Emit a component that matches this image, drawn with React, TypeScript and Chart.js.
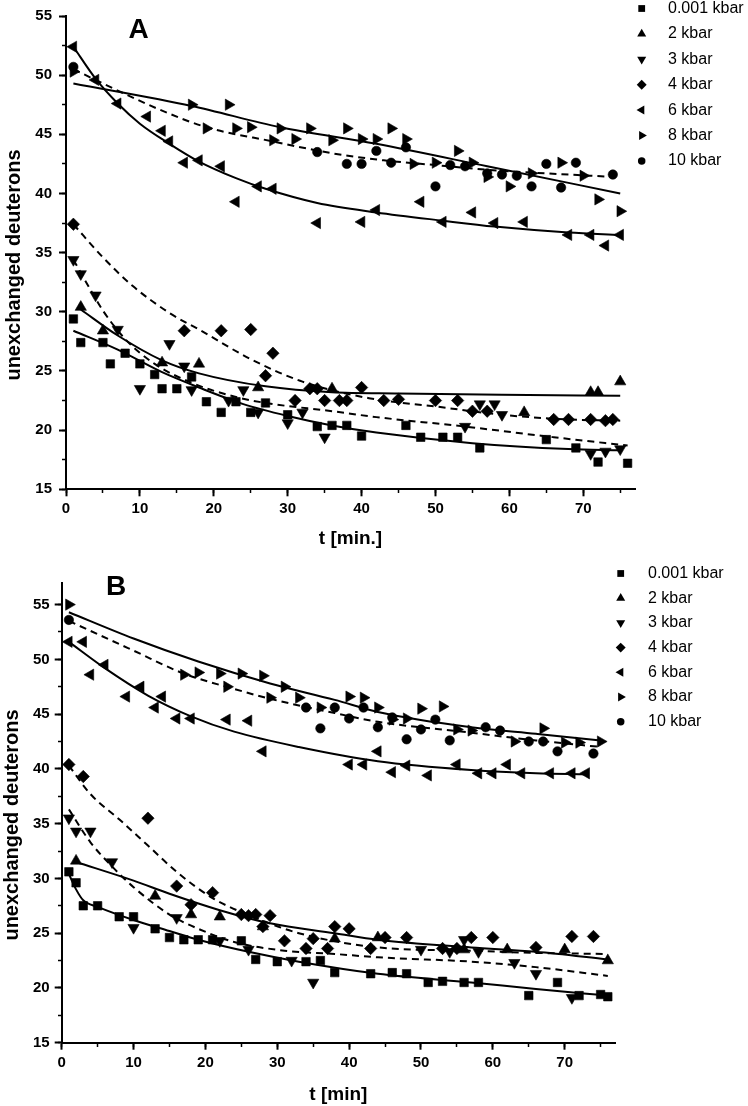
import React, { useEffect, useRef } from 'react';
import { Chart, registerables } from 'chart.js';

Chart.register(...registerables);

const FONT = "'Liberation Sans', Arial, Helvetica, sans-serif";

const PRESSURES = ['0.001 kbar', '2 kbar', '3 kbar', '4 kbar', '6 kbar', '8 kbar', '10 kbar'];
const X_TICK_STEP = 10;
const X_MINOR_STEP = 5;
const Y_TICK_STEP = 5;
const Y_MINOR_STEP = 2.5;

// ---------------- Panel A : measured points ----------------
const A_P001_T = [1, 2, 5, 6, 8, 10, 12, 13, 15, 17, 19, 21, 23, 25, 27, 30, 34, 36, 38, 40, 46, 48, 51, 53, 56, 65, 69, 72, 76];
const A_P001_D = [29.4, 27.4, 27.4, 25.6, 26.5, 25.6, 24.7, 23.5, 23.5, 24.5, 22.4, 21.5, 22.4, 21.5, 22.3, 21.3, 20.3, 20.4, 20.4, 19.5, 20.4, 19.4, 19.4, 19.4, 18.5, 19.2, 18.5, 17.3, 17.2];
const A_P2_T = [2, 5, 13, 18, 26, 36, 62, 71, 72, 75];
const A_P2_D = [30.4, 28.4, 25.7, 25.6, 23.6, 23.5, 21.5, 23.2, 23.2, 24.1];
const A_P3_T = [1, 2, 4, 7, 10, 14, 16, 17, 22, 24, 26, 30, 32, 35, 54, 56, 58, 59, 71, 73, 75];
const A_P3_D = [34.4, 33.2, 31.4, 28.5, 23.5, 27.3, 25.4, 23.4, 22.5, 23.4, 21.5, 20.6, 21.5, 19.4, 20.3, 22.2, 22.2, 21.3, 18.0, 18.2, 18.4];
const A_P4_T = [1, 16, 21, 25, 27, 28, 31, 33, 34, 35, 37, 38, 40, 43, 45, 50, 53, 55, 57, 66, 68, 71, 73, 74];
const A_P4_D = [37.4, 28.4, 28.4, 28.5, 24.6, 26.5, 22.5, 23.5, 23.5, 22.5, 22.5, 22.5, 23.6, 22.5, 22.6, 22.5, 22.5, 21.6, 21.6, 20.9, 20.9, 20.9, 20.8, 20.9];
const A_P6_T = [1, 4, 7, 11, 13, 14, 16, 18, 21, 23, 26, 28, 34, 40, 42, 48, 51, 55, 58, 62, 68, 71, 73, 75];
const A_P6_D = [52.4, 49.6, 47.6, 46.5, 45.3, 44.4, 42.6, 42.8, 42.3, 39.3, 40.6, 40.4, 37.5, 37.6, 38.6, 39.3, 37.6, 38.4, 37.5, 37.6, 36.5, 36.5, 35.6, 36.5];
const A_P8_T = [1, 17, 19, 22, 23, 25, 28, 29, 31, 33, 36, 38, 40, 42, 44, 46, 47, 50, 53, 55, 57, 60, 63, 67, 70, 72, 75];
const A_P8_D = [50.3, 47.5, 45.5, 47.5, 45.5, 45.6, 44.5, 45.5, 44.6, 45.5, 44.5, 45.5, 44.6, 44.6, 45.5, 44.6, 42.5, 42.6, 43.6, 42.6, 41.4, 40.6, 41.7, 42.6, 41.5, 39.5, 38.5];
const A_P10_T = [1, 34, 38, 40, 42, 44, 46, 50, 52, 54, 57, 59, 61, 63, 65, 67, 69, 74];
const A_P10_D = [50.7, 43.5, 42.5, 42.5, 43.6, 42.6, 43.9, 40.6, 42.4, 42.3, 41.7, 41.6, 41.5, 40.6, 42.5, 40.5, 42.6, 41.6];

// ---------------- Panel A : fitted curves ----------------
const A_F001_T = [1, 7, 13, 18, 24, 30, 36, 42, 55, 68, 75];
const A_F001_D = [28.4, 26.8, 24.9, 23.6, 22.2, 21.2, 20.4, 19.8, 18.9, 18.4, 18.3];
const A_F2_T = [2, 7, 13, 18, 27, 36, 45, 59, 75];
const A_F2_D = [30.2, 28.0, 25.9, 24.8, 23.7, 23.2, 23.1, 23.0, 22.9];
const A_F3_T = [1, 3, 5, 8, 12, 17, 23, 27, 36, 42, 54, 66, 76];
const A_F3_D = [34.4, 32.2, 30.1, 27.7, 25.6, 24.0, 22.8, 22.3, 21.6, 21.1, 20.3, 19.4, 18.7];
const A_F4_T = [1, 5, 9, 14, 18, 25, 32, 41, 50, 59, 68, 75];
const A_F4_D = [37.4, 34.6, 32.2, 29.9, 28.5, 26.0, 24.1, 22.7, 22.0, 21.3, 20.9, 20.8];
const A_F6_T = [1, 4, 7, 10, 14, 18, 23, 27, 34, 42, 51, 58, 68, 75];
const A_F6_D = [52.4, 49.7, 47.6, 45.9, 44.2, 42.7, 41.3, 40.4, 39.2, 38.4, 37.7, 37.2, 36.7, 36.5];
const A_F8_T = [1, 17, 29, 42, 57, 75];
const A_F8_D = [49.3, 47.4, 45.6, 44.2, 42.3, 40.0];
const A_F10_T = [1, 7, 13, 19, 28, 36, 43, 50, 57, 65, 74];
const A_F10_D = [50.5, 48.7, 47.0, 45.6, 44.4, 43.4, 42.8, 42.4, 42.0, 41.7, 41.4];

// ---------------- Panel B : measured points ----------------
const B_P001_T = [1, 2, 3, 5, 8, 10, 13, 15, 17, 19, 21, 25, 27, 30, 34, 36, 38, 43, 46, 48, 51, 53, 56, 58, 65, 69, 72, 75, 76];
const B_P001_D = [30.6, 29.6, 27.5, 27.5, 26.5, 26.5, 25.4, 24.6, 24.4, 24.4, 24.4, 24.3, 22.6, 22.4, 22.4, 22.5, 21.4, 21.3, 21.4, 21.3, 20.5, 20.6, 20.5, 20.5, 19.3, 20.5, 19.3, 19.4, 19.2];
const B_P2_T = [2, 13, 18, 22, 28, 38, 44, 56, 62, 70, 76];
const B_P2_D = [31.6, 28.4, 26.7, 26.5, 25.6, 24.5, 24.6, 23.5, 23.5, 23.5, 22.5];
const B_P3_T = [1, 2, 4, 7, 10, 16, 22, 26, 32, 35, 50, 54, 56, 58, 63, 66, 71];
const B_P3_D = [35.5, 34.3, 34.3, 31.5, 25.5, 26.4, 24.3, 23.5, 22.5, 20.5, 23.5, 23.3, 24.4, 23.3, 22.3, 21.3, 19.1];
const B_P4_T = [1, 3, 12, 16, 18, 21, 25, 26, 27, 28, 29, 31, 34, 35, 37, 38, 40, 43, 45, 48, 53, 55, 57, 60, 66, 71, 74];
const B_P4_D = [40.4, 39.3, 35.5, 29.3, 27.6, 28.7, 26.7, 26.6, 26.7, 25.6, 26.6, 24.3, 23.6, 24.5, 23.6, 25.6, 25.4, 23.6, 24.6, 24.6, 23.6, 23.6, 24.6, 24.6, 23.7, 24.7, 24.7];
const B_P6_T = [1, 3, 4, 6, 9, 11, 13, 14, 16, 18, 23, 26, 28, 40, 42, 44, 46, 48, 51, 55, 58, 60, 62, 64, 68, 71, 73];
const B_P6_D = [51.6, 51.6, 48.6, 49.5, 46.6, 47.5, 45.6, 46.6, 44.6, 44.6, 44.5, 44.4, 41.6, 40.4, 40.4, 41.6, 39.7, 40.3, 39.4, 40.4, 39.6, 39.6, 40.4, 39.6, 39.6, 39.6, 39.6];
const B_P8_T = [1, 17, 19, 22, 23, 25, 28, 29, 31, 33, 36, 40, 42, 44, 46, 48, 50, 53, 55, 57, 63, 67, 70, 72, 75];
const B_P8_D = [55.0, 48.6, 48.8, 48.7, 47.5, 48.7, 48.5, 46.5, 47.5, 46.5, 45.6, 46.6, 46.5, 45.6, 44.5, 44.6, 45.5, 45.7, 43.6, 43.5, 42.5, 43.7, 42.4, 42.4, 42.5];
const B_P10_T = [1, 34, 36, 38, 40, 42, 44, 46, 48, 50, 52, 54, 59, 61, 65, 67, 69, 74];
const B_P10_D = [53.6, 45.6, 43.7, 45.6, 44.6, 45.6, 43.8, 44.7, 42.7, 43.6, 44.5, 42.6, 43.8, 43.5, 42.5, 42.5, 41.6, 41.4];

// ---------------- Panel B : fitted curves ----------------
const B_F001_T = [1, 2, 3, 5, 10, 15, 19, 26, 33, 44, 57, 66, 76];
const B_F001_D = [30.4, 29.0, 28.0, 27.4, 26.2, 25.2, 24.4, 23.3, 22.4, 21.3, 20.5, 19.9, 19.3];
const B_F2_T = [2, 10, 15, 22, 29, 38, 44, 57, 66, 76];
const B_F2_D = [31.5, 29.8, 28.6, 27.1, 25.9, 25.0, 24.4, 23.7, 23.3, 22.6];
const B_F3_T = [1, 4, 7, 10, 15, 19, 24, 31, 38, 44, 57, 66, 76];
const B_F3_D = [36.3, 33.3, 31.1, 29.2, 26.7, 25.4, 24.2, 23.4, 23.1, 22.8, 22.4, 21.9, 21.1];
const B_F4_T = [1, 4, 8, 12, 16, 21, 27, 33, 44, 57, 66, 76];
const B_F4_D = [40.3, 37.7, 35.4, 33.0, 30.6, 28.2, 26.4, 25.0, 23.7, 23.4, 23.2, 23.1];
const B_F6_T = [1, 6, 12, 18, 24, 33, 44, 57, 66, 73];
const B_F6_D = [51.6, 49.2, 46.7, 44.8, 43.4, 42.0, 40.7, 39.9, 39.6, 39.5];
const B_F8_T = [1, 10, 19, 29, 38, 44, 57, 66, 75];
const B_F8_D = [54.3, 51.9, 49.8, 47.8, 46.3, 45.2, 43.8, 43.2, 42.6];
const B_F10_T = [1, 10, 17, 24, 29, 38, 44, 57, 66, 75];
const B_F10_D = [53.5, 50.8, 48.7, 47.3, 46.4, 45.1, 44.3, 43.3, 42.6, 42.0];

// ---------------- styles ----------------
const MARKERS = [
  { shape: 'rect', rotation: 0, radius: 6 },
  { shape: 'triangle', rotation: 0, radius: 6.5 },
  { shape: 'triangle', rotation: 180, radius: 6.5 },
  { shape: 'rectRot', rotation: 0, radius: 6.2 },
  { shape: 'triangle', rotation: 270, radius: 6.5 },
  { shape: 'triangle', rotation: 90, radius: 6.5 },
  { shape: 'circle', rotation: 0, radius: 4.7 },
];
const DASHED = [false, false, true, true, false, false, true];

type Pair = [number[], number[]];

interface PanelSpec {
  points: Pair[];
  fits: Pair[];
  yMin: number;
  yMax: number;
  xMax: number;
  padding: { left: number; right: number; top: number; bottom: number };
  yTickPadding: number;
  decor: any;
}

const PANEL_A: PanelSpec = {
  points: [
    [A_P001_T, A_P001_D], [A_P2_T, A_P2_D], [A_P3_T, A_P3_D], [A_P4_T, A_P4_D],
    [A_P6_T, A_P6_D], [A_P8_T, A_P8_D], [A_P10_T, A_P10_D],
  ],
  fits: [
    [A_F001_T, A_F001_D], [A_F2_T, A_F2_D], [A_F3_T, A_F3_D], [A_F4_T, A_F4_D],
    [A_F6_T, A_F6_D], [A_F8_T, A_F8_D], [A_F10_T, A_F10_D],
  ],
  yMin: 15,
  yMax: 55,
  xMax: 77,
  padding: { left: 16, right: 113, top: 15.7, bottom: 26.7 },
  yTickPadding: 7,
  decor: {
    yTitle: 'unexchanged deuterons', yTitleX: 14, yTitleY: 265,
    xTitle: 't [min.]', xTitleBaseline: 543.5,
    letter: 'A', letterX: 138.5, letterBaseline: 38,
    legendX: 641.7, legendTextX: 668, legendY0: 8.5, legendDy: 25.4,
  },
};

const PANEL_B: PanelSpec = {
  points: [
    [B_P001_T, B_P001_D], [B_P2_T, B_P2_D], [B_P3_T, B_P3_D], [B_P4_T, B_P4_D],
    [B_P6_T, B_P6_D], [B_P8_T, B_P8_D], [B_P10_T, B_P10_D],
  ],
  fits: [
    [B_F001_T, B_F001_D], [B_F2_T, B_F2_D], [B_F3_T, B_F3_D], [B_F4_T, B_F4_D],
    [B_F6_T, B_F6_D], [B_F8_T, B_F8_D], [B_F10_T, B_F10_D],
  ],
  yMin: 15,
  yMax: 57,
  xMax: 77,
  padding: { left: 11.7, right: 133, top: 26.7, bottom: 23.3 },
  yTickPadding: 5,
  decor: {
    yTitle: 'unexchanged deuterons', yTitleX: 12.5, yTitleY: 269,
    xTitle: 't [min]', xTitleBaseline: 543.5,
    letter: 'B', letterX: 116, letterBaseline: 39,
    legendX: 620.7, legendTextX: 648, legendY0: 17.5, legendDy: 24.7,
  },
};

function drawMarker(ctx: CanvasRenderingContext2D, m: any, x: number, y: number, r: number) {
  ctx.beginPath();
  if (m.shape === 'rect') {
    const s = r * Math.SQRT1_2;
    ctx.rect(x - s, y - s, 2 * s, 2 * s);
  } else if (m.shape === 'rectRot') {
    ctx.moveTo(x, y - r);
    ctx.lineTo(x + r, y);
    ctx.lineTo(x, y + r);
    ctx.lineTo(x - r, y);
    ctx.closePath();
  } else if (m.shape === 'circle') {
    ctx.arc(x, y, r, 0, Math.PI * 2);
  } else {
    let rad = (m.rotation * Math.PI) / 180;
    ctx.moveTo(x + Math.sin(rad) * r, y - Math.cos(rad) * r);
    rad += (2 * Math.PI) / 3;
    ctx.lineTo(x + Math.sin(rad) * r, y - Math.cos(rad) * r);
    rad += (2 * Math.PI) / 3;
    ctx.lineTo(x + Math.sin(rad) * r, y - Math.cos(rad) * r);
    ctx.closePath();
  }
  ctx.fill();
}

const decorPlugin = {
  id: 'decor',
  afterDraw(chart: any, _args: any, o: any) {
    const ctx: CanvasRenderingContext2D = chart.ctx;
    const ca = chart.chartArea;
    ctx.save();
    ctx.fillStyle = '#000';

    // y axis title
    ctx.save();
    ctx.font = `bold 20px ${FONT}`;
    ctx.textAlign = 'center';
    ctx.textBaseline = 'middle';
    ctx.translate(o.yTitleX, o.yTitleY);
    ctx.rotate(-Math.PI / 2);
    ctx.fillText(o.yTitle, 0, 0);
    ctx.restore();

    // x axis title
    ctx.font = `bold 19px ${FONT}`;
    ctx.textAlign = 'center';
    ctx.textBaseline = 'alphabetic';
    ctx.fillText(o.xTitle, (ca.left + ca.right) / 2, o.xTitleBaseline);

    // panel letter
    ctx.font = `bold 28px ${FONT}`;
    ctx.fillText(o.letter, o.letterX, o.letterBaseline);

    // legend
    ctx.font = `16px ${FONT}`;
    ctx.textAlign = 'left';
    ctx.textBaseline = 'middle';
    PRESSURES.forEach((label, i) => {
      const y = o.legendY0 + i * o.legendDy;
      const m = MARKERS[i];
      drawMarker(ctx, m, o.legendX, y, m.radius * 0.8);
      ctx.fillText(label, o.legendTextX, y);
    });
    ctx.restore();
  },
};

function toXY(p: Pair) {
  return p[0].map((t, k) => ({ x: t, y: p[1][k] }));
}

function buildConfig(p: PanelSpec): any {
  const datasets: any[] = [];
  p.points.forEach((s, i) => {
    const m = MARKERS[i];
    datasets.push({
      label: PRESSURES[i],
      data: toXY(s),
      xAxisID: 'x',
      yAxisID: 'y',
      showLine: false,
      pointStyle: m.shape,
      pointRotation: m.rotation,
      pointRadius: m.radius,
      pointHoverRadius: m.radius,
      backgroundColor: '#000',
      borderColor: '#000',
      borderWidth: 0.6,
    });
  });
  p.fits.forEach((s, i) => {
    datasets.push({
      label: 'fit ' + PRESSURES[i],
      data: toXY(s),
      xAxisID: 'x',
      yAxisID: 'y',
      showLine: true,
      fill: false,
      pointRadius: 0,
      pointHoverRadius: 0,
      borderColor: '#000',
      backgroundColor: '#000',
      borderWidth: 2,
      borderDash: DASHED[i] ? [7, 5] : [],
      cubicInterpolationMode: 'monotone',
    });
  });

  const tickFont = { family: FONT, size: 15, weight: 'bold' };

  return {
    type: 'scatter',
    data: { datasets },
    options: {
      responsive: false,
      animation: false,
      events: [],
      layout: { padding: p.padding },
      plugins: {
        legend: { display: false },
        tooltip: { enabled: false },
        decor: p.decor,
      },
      scales: {
        x: {
          type: 'linear',
          position: 'bottom',
          min: 0,
          max: p.xMax,
          afterFit: (s: any) => { s.height = 40; },
          ticks: {
            stepSize: X_TICK_STEP, includeBounds: false, autoSkip: false, maxRotation: 0,
            padding: 4, color: '#000', font: tickFont,
          },
          grid: { drawOnChartArea: false, drawTicks: true, tickLength: 7, tickWidth: 2, tickColor: '#000' },
          border: { display: true, color: '#000', width: 2 },
          title: { display: false },
        },
        y: {
          type: 'linear',
          position: 'left',
          min: p.yMin,
          max: p.yMax,
          afterFit: (s: any) => { s.width = 50; },
          ticks: {
            stepSize: Y_TICK_STEP, includeBounds: false, autoSkip: false,
            padding: p.yTickPadding, color: '#000', font: tickFont,
          },
          grid: { drawOnChartArea: false, drawTicks: true, tickLength: 7, tickWidth: 2, tickColor: '#000' },
          border: { display: true, color: '#000', width: 2 },
          title: { display: false },
        },
        xMinor: {
          type: 'linear',
          axis: 'x',
          position: { y: p.yMin },
          min: 0,
          max: p.xMax,
          ticks: { display: false, stepSize: X_MINOR_STEP, includeBounds: false, autoSkip: false },
          grid: { drawOnChartArea: false, drawTicks: true, tickLength: 4, tickWidth: 1.5, tickColor: '#000' },
          border: { display: false },
        },
        yMinor: {
          type: 'linear',
          axis: 'y',
          position: { x: 0 },
          min: p.yMin,
          max: p.yMax,
          ticks: { display: false, stepSize: Y_MINOR_STEP, includeBounds: false, autoSkip: false },
          grid: { drawOnChartArea: false, drawTicks: true, tickLength: 4, tickWidth: 1.5, tickColor: '#000' },
          border: { display: false },
        },
      },
    },
    plugins: [decorPlugin],
  };
}

function Panel({ spec, top, height }: { spec: PanelSpec; top: number; height: number }) {
  const ref = useRef<HTMLCanvasElement>(null);
  useEffect(() => {
    if (!ref.current) return;
    const chart = new Chart(ref.current, buildConfig(spec));
    return () => chart.destroy();
  }, [spec]);
  return (
    <canvas
      ref={ref}
      width={748}
      height={height}
      style={{ position: 'absolute', left: 0, top, width: 748, height, display: 'block' }}
    />
  );
}

export default function App() {
  return (
    <div style={{ position: 'absolute', left: 0, top: 0, width: 748, height: 1106, background: '#fff' }}>
      <Panel spec={PANEL_A} top={0} height={556} />
      <Panel spec={PANEL_B} top={556} height={550} />
    </div>
  );
}
